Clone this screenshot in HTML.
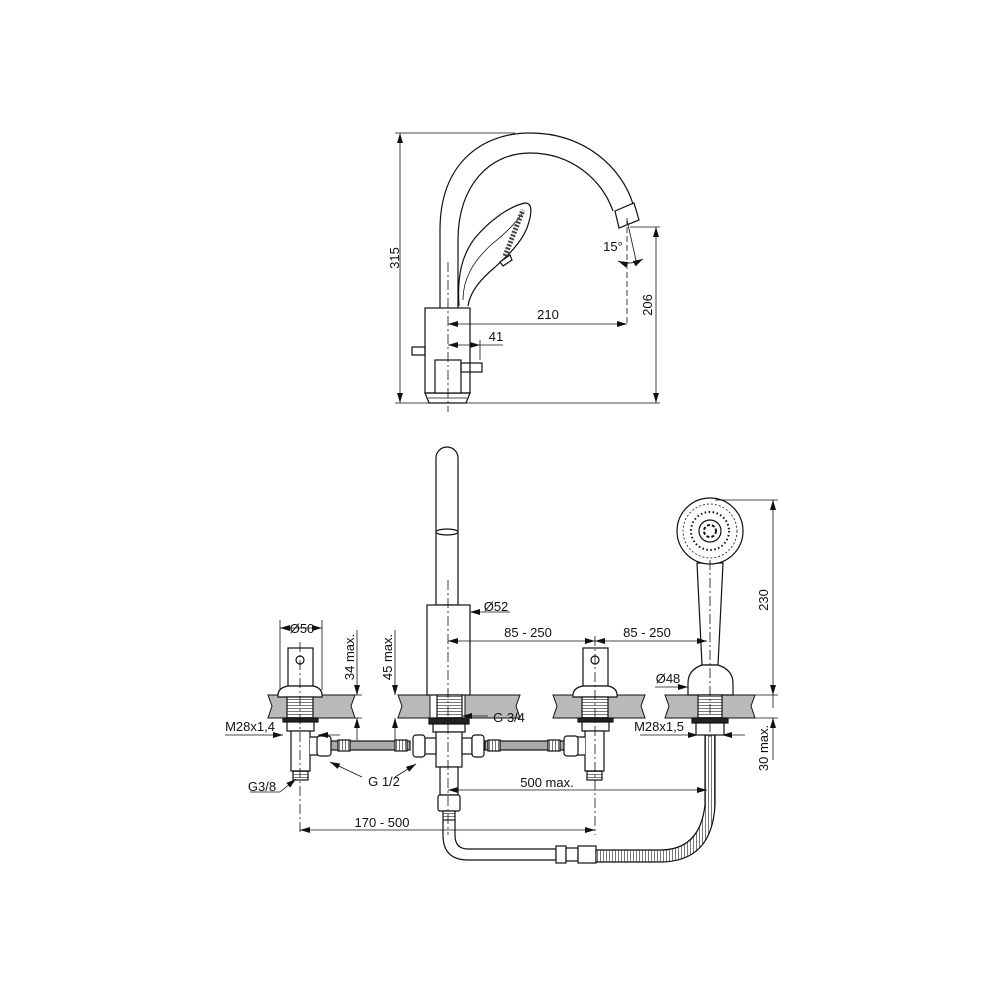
<!DOCTYPE html>
<html><head><meta charset="utf-8"><style>
html,body{margin:0;padding:0;background:#fff;width:1000px;height:1000px;overflow:hidden}
svg{display:block}
text{font-family:"Liberation Sans",sans-serif;font-size:13px;fill:#111}
</style></head><body>
<svg width="1000" height="1000" viewBox="0 0 1000 1000" xmlns="http://www.w3.org/2000/svg">
<defs>
<marker id="a" viewBox="0 0 10 6" refX="10" refY="3" markerWidth="10" markerHeight="6" orient="auto-start-reverse" markerUnits="userSpaceOnUse"><path d="M0,0 L10,3 L0,6z" fill="#111"/></marker>
<pattern id="thr" width="4" height="3" patternUnits="userSpaceOnUse"><rect width="4" height="3" fill="#fff"/><line x1="0" y1="0.5" x2="4" y2="0.5" stroke="#555" stroke-width="0.8"/></pattern>
<pattern id="thv" width="3" height="4" patternUnits="userSpaceOnUse"><rect width="3" height="4" fill="#fff"/><line x1="0.5" y1="0" x2="0.5" y2="4" stroke="#555" stroke-width="0.8"/></pattern>
</defs>
<g fill="none" stroke="#111" stroke-width="1.2">
<path d="M440,308 L440,230 C440,165 480,133 530,133 C585,133 622,168 633,204"/>
<path d="M458,308 L458,240 C458,185 490,153 530,153 C572,153 602,180 613,211"/>
<path d="M615,211 L634,203 L639,220 L619,228 Z" fill="#fff"/>
<path d="M459,306 C457,275 462,255 475,238 C490,220 510,206 525,203 C533,203 532,214 527,228 C520,245 505,258 494,268 C480,280 470,292 468,306"/>
<path d="M463,300 C463,280 472,262 492,244 C507,232 517,222 523,212" stroke-width="0.8"/>
<path d="M505,256 L523,210" stroke="#444" stroke-width="5" stroke-dasharray="2,1.5"/>
<path d="M500,262 L510,255 L512,260 L503,266 Z" fill="#fff"/>
<rect x="425" y="308" width="45" height="85" fill="#fff"/>
<path d="M425,393 L470,393 L466,403 L429,403 Z"/>
<line x1="428" y1="398" x2="467" y2="398" stroke-width="0.8"/>
<rect x="412" y="347" width="13" height="8"/>
<rect x="435" y="360" width="26" height="33" fill="#fff"/>
<rect x="461" y="363" width="21" height="9"/>
<g stroke-width="0.8">
<line x1="448" y1="262" x2="448" y2="412" stroke-dasharray="10,3,2,3"/>
<line x1="627" y1="218" x2="627" y2="325" stroke-dasharray="6,3"/>
<line x1="395" y1="133" x2="515" y2="133"/>
<line x1="395" y1="403" x2="660" y2="403"/>
<line x1="630" y1="227" x2="660" y2="227"/>
<line x1="480" y1="340" x2="480" y2="360"/>
<line x1="627" y1="220" x2="637" y2="265"/>
<line x1="400" y1="133" x2="400" y2="403" marker-start="url(#a)" marker-end="url(#a)"/>
<line x1="656" y1="227" x2="656" y2="403" marker-start="url(#a)" marker-end="url(#a)"/>
<line x1="448" y1="324" x2="627" y2="324" marker-start="url(#a)" marker-end="url(#a)"/>
<line x1="448" y1="345" x2="480" y2="345" marker-start="url(#a)" marker-end="url(#a)"/>
<line x1="480" y1="345" x2="503" y2="345"/>
<path d="M618,261 Q630,266 643,259" marker-start="url(#a)" marker-end="url(#a)"/>
</g>
</g>
<text x="395" y="258" transform="rotate(-90 395 258)" text-anchor="middle" dy="4">315</text>
<text x="648" y="305" transform="rotate(-90 648 305)" text-anchor="middle" dy="4">206</text>
<text x="548" y="319" text-anchor="middle">210</text>
<text x="496" y="341" text-anchor="middle">41</text>
<text x="613" y="251" text-anchor="middle">15°</text>

<g fill="#b9b9b9" stroke="#111" stroke-width="1">
<path d="M268,695 L355,695 L351,706 L355,718 L268,718 L272,706 Z"/>
<path d="M398,695 L430,695 L430,718 L398,718 L402,706 Z"/>
<path d="M465,695 L520,695 L516,706 L520,718 L465,718 Z"/>
<path d="M553,695 L645,695 L641,706 L645,718 L553,718 L557,706 Z"/>
<path d="M665,695 L755,695 L751,706 L755,718 L665,718 L669,706 Z"/>
</g>
<g fill="#fff" stroke="#111" stroke-width="1.2">
<path d="M436,605 L436,458 A11,11 0 0 1 458,458 L458,605 Z"/>
<ellipse cx="447" cy="532" rx="11" ry="3"/>
<rect x="427" y="605" width="43" height="90"/>
<rect x="437" y="695" width="25" height="23" fill="url(#thr)"/>
<rect x="429" y="718" width="40" height="6" fill="#222"/>
<rect x="433" y="724" width="32" height="8"/>
<rect x="330" y="741" width="80" height="9" fill="#aaa"/>
<rect x="485" y="741" width="80" height="9" fill="#aaa"/>
<rect x="338" y="740" width="12" height="11" fill="url(#thv)"/>
<rect x="395" y="740" width="12" height="11" fill="url(#thv)"/>
<rect x="488" y="740" width="12" height="11" fill="url(#thv)"/>
<rect x="548" y="740" width="12" height="11" fill="url(#thv)"/>
<rect x="436" y="732" width="26" height="35"/>
<rect x="413" y="735" width="12" height="22" rx="3"/>
<rect x="425" y="738" width="11" height="16"/>
<rect x="462" y="738" width="10" height="16"/>
<rect x="472" y="735" width="12" height="22" rx="3"/>
<rect x="440" y="767" width="18" height="28"/>
<rect x="438" y="795" width="22" height="16" rx="2"/>
<rect x="443" y="811" width="12" height="10" fill="url(#thr)"/>
<path d="M443,821 L443,835 Q443,860 468,860 L556,860 L556,849 L468,849 Q455,849 455,835 L455,821" fill="#fff"/>
<rect x="556" y="846" width="10" height="17"/>
<rect x="566" y="848" width="12" height="13"/>
<rect x="578" y="846" width="18" height="17"/>
<path d="M596,850 L660,850 Q700,850 705,805 L705,735 L715,735 L715,805 Q712,862 660,862 L596,862 Z" fill="url(#thv)"/>
<rect x="288" y="648" width="25" height="38"/>
<circle cx="300" cy="660" r="4"/>
<path d="M288,686 L313,686 Q323,688 322,697 L278,697 Q277,688 288,686 Z"/>
<rect x="287" y="697" width="26" height="21" fill="url(#thr)"/>
<rect x="283" y="718" width="35" height="4" fill="#222"/>
<rect x="287" y="722" width="27" height="9"/>
<rect x="291" y="731" width="19" height="40"/>
<path d="M310,737 L318,737 L318,755 L310,755"/>
<rect x="317" y="736" width="14" height="20" rx="3"/>
<rect x="293" y="771" width="15" height="9" fill="url(#thr)"/>
<rect x="583" y="648" width="25" height="38"/>
<circle cx="595" cy="660" r="4"/>
<path d="M583,686 L608,686 Q618,688 617,697 L573,697 Q572,688 583,686 Z"/>
<rect x="582" y="697" width="26" height="21" fill="url(#thr)"/>
<rect x="578" y="718" width="35" height="4" fill="#222"/>
<rect x="582" y="722" width="27" height="9"/>
<rect x="585" y="731" width="19" height="40"/>
<path d="M585,737 L577,737 L577,755 L585,755"/>
<rect x="564" y="736" width="14" height="20" rx="3"/>
<rect x="587" y="771" width="15" height="9" fill="url(#thr)"/>
<path d="M697,563 L723,563 L718,665 L702,665 Z"/>
<circle cx="710" cy="531" r="33"/>
<circle cx="710" cy="531" r="27" stroke-width="0.8" stroke-dasharray="2,2"/>
<circle cx="710" cy="531" r="19" stroke-width="2" stroke-dasharray="1.5,2.5"/>
<circle cx="710" cy="531" r="11"/>
<circle cx="710" cy="531" r="6" stroke-width="2" stroke-dasharray="3,2"/>
<path d="M702,665 L718,665 Q733,670 733,683 L733,695 L688,695 L688,683 Q688,670 702,665 Z"/>
<rect x="698" y="695" width="24" height="23" fill="url(#thr)"/>
<rect x="692" y="718" width="36" height="5" fill="#222"/>
<rect x="696" y="723" width="28" height="12"/>
</g>
<g fill="none" stroke="#111" stroke-width="0.8">
<line x1="448" y1="580" x2="448" y2="835" stroke-dasharray="10,3,2,3"/>
<line x1="300" y1="642" x2="300" y2="835" stroke-dasharray="10,3,2,3"/>
<line x1="595" y1="636" x2="595" y2="835" stroke-dasharray="10,3,2,3"/>
<line x1="710" y1="560" x2="710" y2="740" stroke-dasharray="10,3,2,3"/>
<line x1="280" y1="620" x2="280" y2="690"/><line x1="322" y1="620" x2="322" y2="690"/>
<line x1="280" y1="628" x2="322" y2="628" marker-start="url(#a)" marker-end="url(#a)"/>
<line x1="325" y1="695" x2="362" y2="695"/><line x1="330" y1="718" x2="362" y2="718"/>
<line x1="357" y1="630" x2="357" y2="695" marker-end="url(#a)"/>
<line x1="357" y1="740" x2="357" y2="718" marker-end="url(#a)"/>
<line x1="395" y1="630" x2="395" y2="695" marker-end="url(#a)"/>
<line x1="395" y1="740" x2="395" y2="718" marker-end="url(#a)"/>
<line x1="510" y1="612" x2="470" y2="612" marker-end="url(#a)"/>
<line x1="448" y1="641" x2="595" y2="641" marker-start="url(#a)" marker-end="url(#a)"/>
<line x1="595" y1="641" x2="707" y2="641" marker-start="url(#a)" marker-end="url(#a)"/>
<line x1="715" y1="500" x2="778" y2="500"/>
<line x1="735" y1="695" x2="778" y2="695"/><line x1="730" y1="718" x2="778" y2="718"/>
<line x1="773" y1="500" x2="773" y2="695" marker-start="url(#a)" marker-end="url(#a)"/>
<line x1="773" y1="760" x2="773" y2="718" marker-end="url(#a)"/>
<line x1="773" y1="695" x2="773" y2="708"/>
<line x1="655" y1="687" x2="688" y2="687" marker-end="url(#a)"/>
<line x1="225" y1="735" x2="283" y2="735" marker-end="url(#a)"/>
<line x1="340" y1="735" x2="318" y2="735" marker-end="url(#a)"/>
<line x1="640" y1="735" x2="698" y2="735" marker-end="url(#a)"/>
<line x1="745" y1="735" x2="722" y2="735" marker-end="url(#a)"/>
<line x1="488" y1="716" x2="462" y2="716" marker-end="url(#a)"/>
<line x1="362" y1="777" x2="330" y2="762" marker-end="url(#a)"/>
<line x1="395" y1="777" x2="416" y2="764" marker-end="url(#a)"/>
<line x1="250" y1="792" x2="280" y2="792"/>
<line x1="280" y1="792" x2="296" y2="779" marker-end="url(#a)"/>
<line x1="448" y1="790" x2="707" y2="790" marker-start="url(#a)" marker-end="url(#a)"/>
<line x1="300" y1="830" x2="595" y2="830" marker-start="url(#a)" marker-end="url(#a)"/>
</g>
<text x="302" y="633" text-anchor="middle">Ø50</text>
<text x="350" y="657" transform="rotate(-90 350 657)" text-anchor="middle" dy="4">34 max.</text>
<text x="388" y="657" transform="rotate(-90 388 657)" text-anchor="middle" dy="4">45 max.</text>
<text x="496" y="611" text-anchor="middle">Ø52</text>
<text x="528" y="637" text-anchor="middle">85 - 250</text>
<text x="647" y="637" text-anchor="middle">85 - 250</text>
<text x="764" y="600" transform="rotate(-90 764 600)" text-anchor="middle" dy="4">230</text>
<text x="764" y="748" transform="rotate(-90 764 748)" text-anchor="middle" dy="4">30 max.</text>
<text x="668" y="683" text-anchor="middle">Ø48</text>
<text x="250" y="731" text-anchor="middle">M28x1,4</text>
<text x="659" y="731" text-anchor="middle">M28x1,5</text>
<text x="509" y="722" text-anchor="middle">G 3/4</text>
<text x="384" y="786" text-anchor="middle">G 1/2</text>
<text x="262" y="791" text-anchor="middle">G3/8</text>
<text x="547" y="787" text-anchor="middle">500 max.</text>
<text x="382" y="827" text-anchor="middle">170 - 500</text>
</svg>
</body></html>
